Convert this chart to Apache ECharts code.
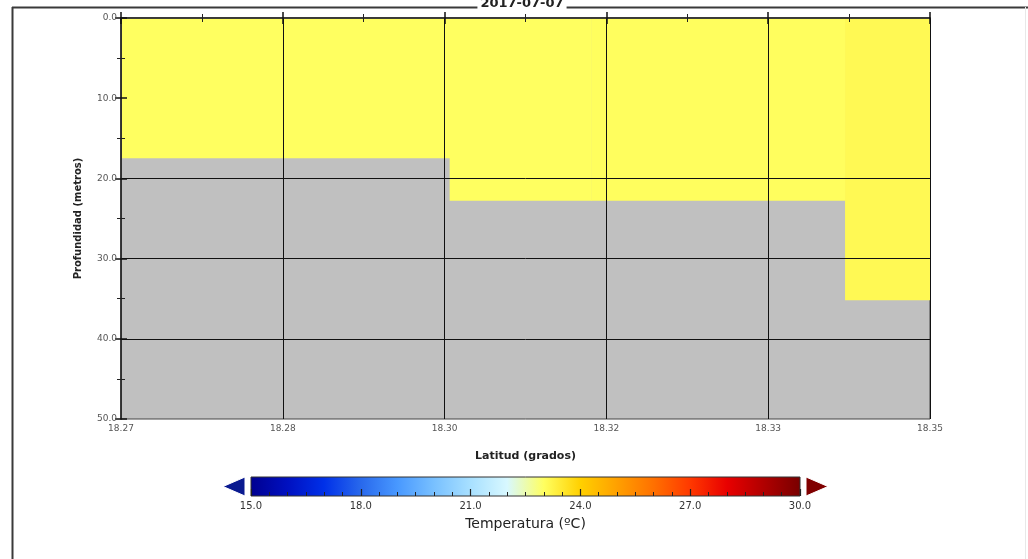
<!DOCTYPE html>
<html>
<head>
<meta charset="utf-8">
<script src="https://cdn.jsdelivr.net/npm/echarts@6/dist/echarts.min.js"></script>
<style>html,body{margin:0;padding:0;background:#fff}#c{width:1028px;height:559px}</style>
</head>
<body>
<div id="c"></div>
<script>
// ---- data ----
var titleText = '2017-07-07';
var latMin = 18.27;           // degrees
var latStep = 0.016;          // degrees between labelled ticks
var xTickLabels = ['18.27', '18.28', '18.30', '18.32', '18.33', '18.35'];
var yTickLabels = ['0.0', '10.0', '20.0', '30.0', '40.0', '50.0'];
var gridDepths = [20, 30, 40];
// columns of the section: west edge lat, east edge lat, max depth with data (m), temperature (ºC)
var colWest  = [18.2700, 18.3025, 18.3165, 18.3416];
var colEast  = [18.3025, 18.3165, 18.3416, 18.3500];
var colDepth = [17.5, 22.8, 22.8, 35.2];
var colTemp  = [23.0, 23.0, 23.02, 23.12];
var cbTickLabels = ['15.0', '18.0', '21.0', '24.0', '27.0', '30.0'];
var cbMin = 15, cbMax = 30;
var cbColors = ['#000090','#0010c0','#0030e8','#2868ec','#4898ff','#78c0ff','#a8e0ff','#d8f8ff',
                '#ffff60','#ffd000','#ffa000','#ff7000','#ff3800','#e80000','#b00000','#780000'];

// ---- build ----
function toX(lat) { return Math.round((lat - latMin) * 100000) / 100; } // units of 0.001 deg
var xStep = toX(latMin + latStep);
var cells = colWest.map(function (w, i) { return [toX(w), toX(colEast[i]), 0, colDepth[i], colTemp[i]]; });

var chart = echarts.init(document.getElementById('c'), null, {renderer: 'canvas'});
var lbl = {fontFamily: 'DejaVu Sans', fontSize: 9, color: '#555'};

var option = {
  animation: false,
  backgroundColor: '#fff',
  grid: [
    {left: 121, top: 18, width: 809, height: 401, show: true, backgroundColor: '#c0c0c0', borderColor: '#444', borderWidth: 1},
    {left: 251, top: 477, width: 549, height: 19, show: false}
  ],
  visualMap: {
    show: false, type: 'continuous', min: cbMin, max: cbMax, dimension: 4, seriesIndex: 0,
    inRange: {color: cbColors}
  },
  xAxis: [
    {type: 'value', gridIndex: 0, min: 0, max: toX(latMin + latStep * 5), interval: xStep, z: 10,
      axisLine: {show: true, lineStyle: {color: '#333', width: 1.5}},
      axisTick: {inside: true, length: 6, lineStyle: {color: '#111', width: 1.5}},
      minorTick: {show: true, splitNumber: 2, length: 4, lineStyle: {color: '#222'}},
      splitLine: {show: true, lineStyle: {color: '#111', width: 1}},
      axisLabel: Object.assign({margin: 5, formatter: function (v) { return xTickLabels[Math.round(v / xStep)]; }}, lbl),
      name: 'Latitud (grados)', nameLocation: 'middle', nameGap: 32,
      nameTextStyle: {fontFamily: 'DejaVu Sans', fontSize: 11, color: '#222', fontWeight: 'bold'}
    },
    {type: 'value', gridIndex: 0, position: 'top', min: 0, max: toX(latMin + latStep * 5), interval: xStep, z: 10,
      axisLine: {show: true, lineStyle: {color: '#333', width: 1.5}},
      axisTick: {inside: true, length: 6, lineStyle: {color: '#111', width: 1.5}},
      minorTick: {show: true, splitNumber: 2, length: 4, lineStyle: {color: '#222'}},
      splitLine: {show: false}, axisLabel: {show: false}
    },
    {type: 'value', gridIndex: 1, min: cbMin, max: cbMax, interval: 3, z: 10,
      axisLine: {show: false},
      axisTick: {inside: true, length: 7, lineStyle: {color: '#222', width: 1.2}},
      minorTick: {show: true, splitNumber: 6, length: 4, lineStyle: {color: '#222', width: 1}},
      splitLine: {show: false},
      axisLabel: {margin: 5, fontFamily: 'DejaVu Sans', fontSize: 10, color: '#333',
        formatter: function (v) { return cbTickLabels[Math.round((v - cbMin) / 3)]; }},
      name: 'Temperatura (ºC)', nameLocation: 'middle', nameGap: 21,
      nameTextStyle: {fontFamily: 'DejaVu Sans', fontSize: 14, color: '#222'}
    }
  ],
  yAxis: [
    {type: 'value', gridIndex: 0, inverse: true, min: 0, max: 50, interval: 10, z: 10,
      axisLine: {show: true, lineStyle: {color: '#333', width: 1.5}},
      axisTick: {inside: true, length: 6, lineStyle: {color: '#111', width: 1.5}},
      minorTick: {show: true, splitNumber: 2, length: 4, lineStyle: {color: '#222'}},
      splitLine: {show: false},
      axisLabel: Object.assign({margin: 4, formatter: function (v) { return yTickLabels[Math.round(v / 10)]; }}, lbl),
      name: 'Profundidad (metros)', nameLocation: 'middle', nameGap: 38,
      nameTextStyle: {fontFamily: 'DejaVu Sans', fontSize: 10, color: '#222', fontWeight: 'bold'}
    },
    {type: 'value', gridIndex: 0, position: 'right', inverse: true, min: 0, max: 50, interval: 10, z: 10,
      axisLine: {show: true, lineStyle: {color: '#333', width: 1.5}},
      axisTick: {inside: true, length: 6, lineStyle: {color: '#111', width: 1.5}},
      minorTick: {show: true, splitNumber: 2, length: 4, lineStyle: {color: '#222'}},
      splitLine: {show: false}, axisLabel: {show: false}
    },
    {type: 'value', gridIndex: 1, min: 0, max: 1, show: false}
  ],
  series: [
    {
      type: 'custom', xAxisIndex: 0, yAxisIndex: 0, data: cells, z: 2,
      encode: {x: [0, 1], y: [2, 3]},
      renderItem: function (params, api) {
        var p0 = api.coord([api.value(0), api.value(2)]);
        var p1 = api.coord([api.value(1), api.value(3)]);
        return {type: 'rect', shape: {x: p0[0], y: p0[1], width: p1[0] - p0[0] + 0.5, height: p1[1] - p0[1]},
          style: {fill: api.visual('color')}};
      }
    },
    {
      type: 'line', xAxisIndex: 0, yAxisIndex: 0, data: [], z: 8, silent: true,
      markLine: {silent: true, symbol: 'none', label: {show: false},
        lineStyle: {color: '#111', width: 1, type: 'solid'},
        data: gridDepths.map(function (d) { return {yAxis: d}; })}
    },
    {
      type: 'custom', xAxisIndex: 2, yAxisIndex: 2, data: [[cbMin, cbMax]], z: 2, silent: true,
      renderItem: function (params, api) {
        var a = api.coord([api.value(0), 1]);
        var b = api.coord([api.value(1), 0]);
        var h = b[1] - a[1], mid = (a[1] + b[1]) / 2;
        var stops = cbColors.map(function (c, i) { return {offset: i / (cbColors.length - 1), color: c}; });
        return {type: 'group', children: [
          {type: 'rect', shape: {x: a[0], y: a[1], width: b[0] - a[0], height: h},
            style: {fill: new echarts.graphic.LinearGradient(0, 0, 1, 0, stops), stroke: '#333', lineWidth: 1}},
          {type: 'polygon', shape: {points: [[a[0] - 28, mid], [a[0] - 6, a[1]], [a[0] - 6, b[1]]]},
            style: {fill: '#0a1a90', stroke: '#fff', lineWidth: 1}},
          {type: 'polygon', shape: {points: [[b[0] + 28, mid], [b[0] + 6, a[1]], [b[0] + 6, b[1]]]},
            style: {fill: '#800000', stroke: '#fff', lineWidth: 1}}
        ]};
      }
    }
  ],
  graphic: [
    {type: 'line', shape: {x1: 12, y1: 7.5, x2: 1028, y2: 7.5}, style: {stroke: '#3a3a3a', lineWidth: 2}, z: 1},
    {type: 'line', shape: {x1: 12.5, y1: 7, x2: 12.5, y2: 559}, style: {stroke: '#3a3a3a', lineWidth: 2}, z: 1},
    {type: 'line', shape: {x1: 1025.5, y1: 7, x2: 1025.5, y2: 559}, style: {stroke: '#e8e8e8', lineWidth: 1}, z: 1},
    {type: 'text', x: 522, y: 10, z: 5,
      style: {text: titleText, align: 'center', verticalAlign: 'bottom', fontFamily: 'DejaVu Sans',
        fontSize: 13, fontWeight: 'bold', fill: '#222', backgroundColor: '#fff', padding: [0, 3, 0, 3]}}
  ]
};
chart.setOption(option);
</script>
</body>
</html>
